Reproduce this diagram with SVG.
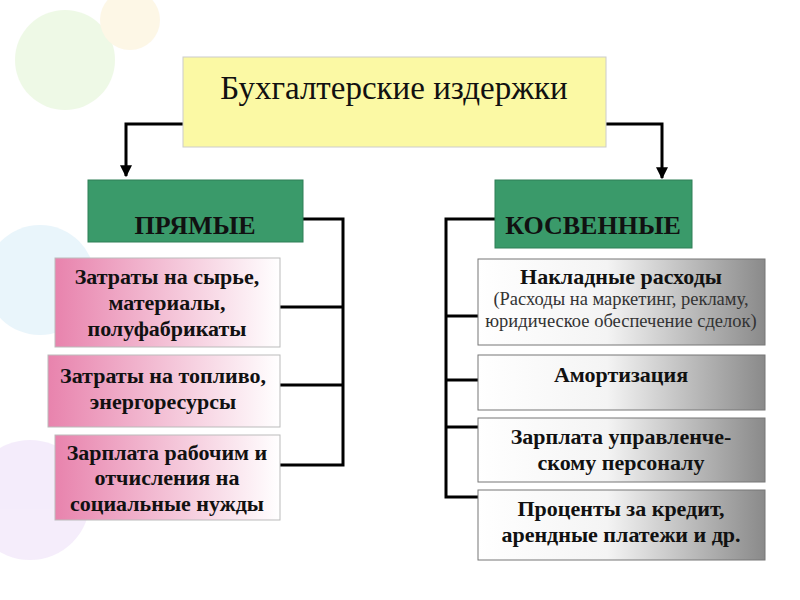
<svg xmlns="http://www.w3.org/2000/svg" width="800" height="600" viewBox="0 0 800 600">
<style>
text{font-family:"Liberation Serif","DejaVu Serif",serif;fill:#111;text-anchor:middle}
.b{font-weight:bold;font-size:22px}
.h{font-weight:bold;font-size:26px}
.s{font-size:18.5px;fill:#333}
.c{fill:none;stroke:#000;stroke-width:3}
.g{fill:#3a9a6a;stroke:#2f7f57}
.p{fill:url(#pink);stroke:#bbb}
.r{fill:url(#gray);stroke:#777}
</style>
<defs>
<linearGradient id="pink"><stop offset="0" stop-color="#e883ad"/><stop offset="1" stop-color="#fff"/></linearGradient>
<linearGradient id="gray"><stop offset="0" stop-color="#fff"/><stop offset="0.45" stop-color="#f4f4f4"/><stop offset="1" stop-color="#8a8a8a"/></linearGradient>
<marker id="ar" viewBox="0 0 10 10" refX="9" refY="5" markerWidth="4" markerHeight="4" orient="auto"><path d="M0 0L10 5L0 10z" fill="#000"/></marker>
</defs>
<rect width="800" height="600" fill="#fff"/>
<g opacity="0.25">
<circle cx="65" cy="60" r="50" fill="#bfe8a0"/>
<circle cx="40" cy="280" r="55" fill="#a9d8f2"/>
<circle cx="30" cy="500" r="60" fill="#d6b8f0"/>
<circle cx="130" cy="20" r="30" fill="#f8e0a0"/>
</g>
<g id="connectors">
<polyline class="c" points="183,124 126,124 126,176" marker-end="url(#ar)"/>
<polyline class="c" points="606,124 662,124 662,178" marker-end="url(#ar)"/>
<polyline class="c" points="303,219 343,219 343,465 280,465"/>
<line class="c" x1="280" y1="307" x2="343" y2="307"/>
<line class="c" x1="280" y1="385" x2="343" y2="385"/>
<polyline class="c" points="495,219 446,219 446,497 478,497"/>
<line class="c" x1="446" y1="316" x2="478" y2="316"/>
<line class="c" x1="446" y1="380" x2="478" y2="380"/>
<line class="c" x1="446" y1="427" x2="478" y2="427"/>
</g>
<g id="title"><rect x="183" y="57" width="423" height="90" fill="#fbf9a4" stroke="#ccc"/><text x="394" y="99" style="font-size:33px">Бухгалтерские издержки</text></g>
<g id="direct"><rect class="g" x="88" y="180" width="215" height="62"/><text class="h" x="195" y="234">ПРЯМЫЕ</text></g>
<g id="indirect"><rect class="g" x="495" y="180" width="197" height="68"/><text class="h" x="593" y="234">КОСВЕННЫЕ</text></g>
<g id="l1"><rect class="p" x="55" y="258" width="225" height="89"/><text class="b" x="167" y="284">Затраты на сырье,</text><text class="b" x="167" y="310">материалы,</text><text class="b" x="167" y="336">полуфабрикаты</text></g>
<g id="l2"><rect class="p" x="48" y="355" width="232" height="72"/><text class="b" x="163" y="383">Затраты на топливо,</text><text class="b" x="163" y="409">энергоресурсы</text></g>
<g id="l3"><rect class="p" x="55" y="435" width="225" height="85"/><text class="b" x="167" y="460">Зарплата рабочим и</text><text class="b" x="167" y="485">отчисления на</text><text class="b" x="167" y="511">социальные нужды</text></g>
<g id="r1"><rect class="r" x="478" y="259" width="287" height="86"/><text class="b" x="621" y="284">Накладные расходы</text><text class="s" x="621" y="305">(Расходы на маркетинг, рекламу,</text><text class="s" x="621" y="327">юридическое обеспечение сделок)</text></g>
<g id="r2"><rect class="r" x="478" y="355" width="287" height="55"/><text class="b" x="621" y="382">Амортизация</text></g>
<g id="r3"><rect class="r" x="478" y="418" width="287" height="64"/><text class="b" x="621" y="444">Зарплата управленче-</text><text class="b" x="621" y="470">скому персоналу</text></g>
<g id="r4"><rect class="r" x="478" y="490" width="287" height="70"/><text class="b" x="621" y="516">Проценты за кредит,</text><text class="b" x="621" y="542">арендные платежи и др.</text></g>
</svg>
